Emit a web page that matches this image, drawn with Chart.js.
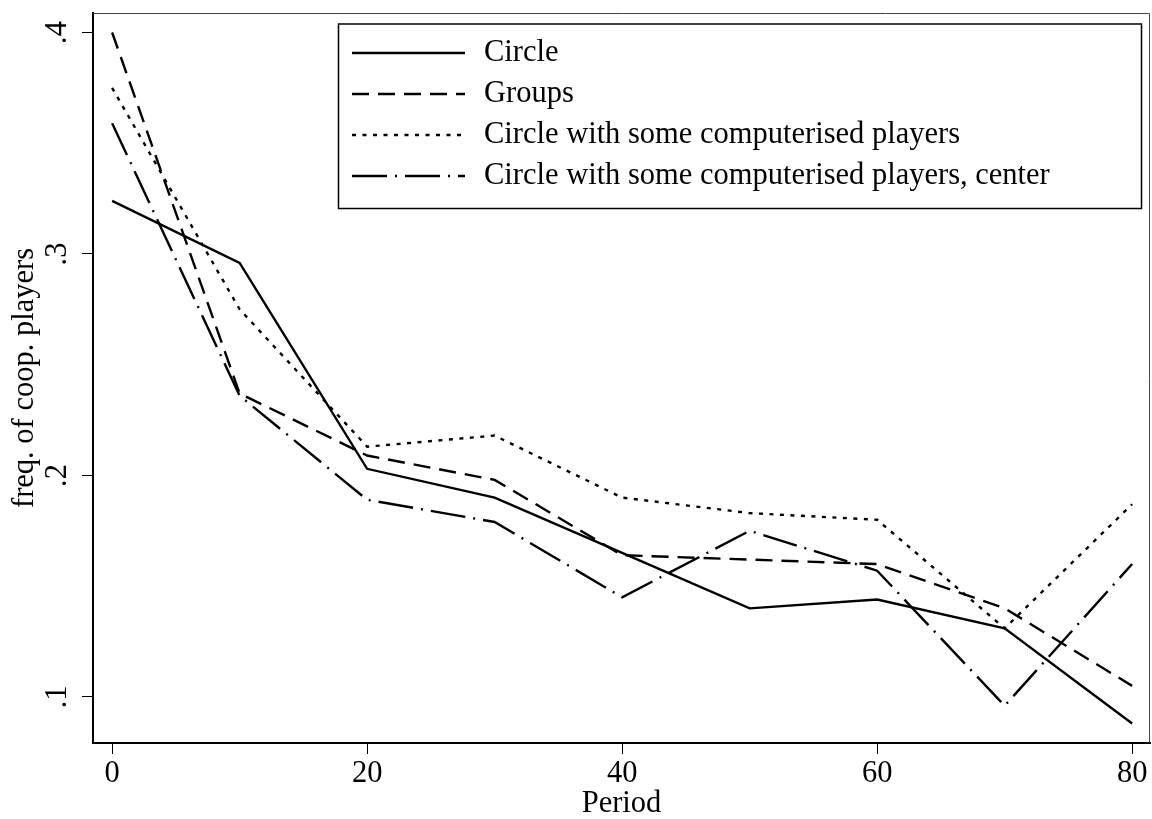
<!DOCTYPE html>
<html>
<head>
<meta charset="utf-8">
<script src="https://cdn.jsdelivr.net/npm/chart.js@4/dist/chart.umd.min.js"></script>
<style>
  html, body { margin: 0; padding: 0; background: #fff; }
  #wrap { width: 1152px; height: 819px; }
</style>
</head>
<body>
<div id="wrap"><canvas id="coopChart" width="1152" height="819"></canvas></div>
<script>
// ---------------------------------------------------------
// DATA
// ---------------------------------------------------------
const periods = [0, 10, 20, 30, 40, 50, 60, 70, 80];
const circle = [0.324, 0.296, 0.203, 0.190, 0.165, 0.140, 0.144, 0.131, 0.088];
const groups = [0.400, 0.237, 0.209, 0.198, 0.164, 0.162, 0.160, 0.140, 0.105];
const computerised = [0.375, 0.275, 0.213, 0.218, 0.190, 0.183, 0.180, 0.131, 0.187];
const computerisedCenter = [0.359, 0.236, 0.189, 0.179, 0.145, 0.175, 0.157, 0.096, 0.160];

const seriesNames = [
    'Circle',
    'Groups',
    'Circle with some computerised players',
    'Circle with some computerised players, center'
];
const xTicks = [0, 20, 40, 60, 80];
const yTicks = [0.1, 0.2, 0.3, 0.4];
const yTickLabels = ['.1', '.2', '.3', '.4'];

const SERIF = '"Liberation Serif", "Times New Roman", serif';
const FONT_SIZE = 30.5;

// line patterns, Stata style
const patterns = [[], [17, 9], [4, 6.5], [35, 8, 2, 8]];

function toPoints(vals) {
    return vals.map((v, i) => ({ x: periods[i], y: v }));
}

const allSeries = [circle, groups, computerised, computerisedCenter];
const datasets = allSeries.map((vals, i) => ({
    label: seriesNames[i],
    data: toPoints(vals),
    borderColor: '#000',
    borderWidth: 2.4,
    borderDash: patterns[i],
    pointRadius: 0,
    tension: 0,
    fill: false
}));

// ---------------------------------------------------------
// PLUGINS: frame, rotated y labels, boxed legend
// ---------------------------------------------------------
const framePlugin = {
    id: 'frame',
    beforeDatasetsDraw(chart) {
        const { ctx, chartArea } = chart;
        ctx.save();
        ctx.strokeStyle = '#444';
        ctx.lineWidth = 1;
        ctx.beginPath();
        ctx.moveTo(chartArea.left, chartArea.top + 0.5);
        ctx.lineTo(chartArea.right - 0.5, chartArea.top + 0.5);
        ctx.lineTo(chartArea.right - 0.5, chartArea.bottom);
        ctx.stroke();
        ctx.restore();
    }
};

const yLabelPlugin = {
    id: 'yLabels',
    afterDraw(chart) {
        const { ctx } = chart;
        const yScale = chart.scales.y;
        ctx.save();
        ctx.fillStyle = '#000';
        ctx.font = FONT_SIZE + 'px ' + SERIF;
        ctx.textAlign = 'center';
        ctx.textBaseline = 'alphabetic';
        yTicks.forEach((v, i) => {
            const py = yScale.getPixelForValue(v);
            ctx.save();
            ctx.translate(66, py);
            ctx.rotate(-Math.PI / 2);
            ctx.fillText(yTickLabels[i], 0, 0);
            ctx.restore();
        });
        ctx.restore();
    }
};

const legendPlugin = {
    id: 'boxLegend',
    afterDraw(chart) {
        const { ctx } = chart;
        const box = { left: 338.5, top: 24, right: 1141.5, bottom: 208.5 };
        ctx.save();
        ctx.strokeStyle = '#000';
        ctx.lineWidth = 1.5;
        ctx.strokeRect(box.left, box.top, box.right - box.left, box.bottom - box.top);

        ctx.font = FONT_SIZE + 'px ' + SERIF;
        ctx.fillStyle = '#000';
        ctx.textAlign = 'left';
        ctx.textBaseline = 'alphabetic';
        chart.data.datasets.forEach((ds, i) => {
            const rowY = 53 + i * 41;
            ctx.lineWidth = 2.4;
            ctx.setLineDash(ds.borderDash || []);
            ctx.beginPath();
            ctx.moveTo(352, rowY);
            ctx.lineTo(465, rowY);
            ctx.stroke();
            ctx.setLineDash([]);
            ctx.fillText(ds.label, 484, rowY + 8);
        });
        ctx.restore();
    }
};

// ---------------------------------------------------------
// CHART
// ---------------------------------------------------------
const ctx = document.getElementById('coopChart').getContext('2d');
const coopChart = new Chart(ctx, {
    type: 'line',
    data: { datasets: datasets },
    options: {
        responsive: false,
        animation: false,
        layout: { padding: { top: 13, right: 2, left: 0, bottom: 0 } },
        plugins: {
            legend: { display: false },
            tooltip: { enabled: false }
        },
        scales: {
            x: {
                type: 'linear',
                min: -1.5,
                max: 81.4,
                afterBuildTicks: (scale) => { scale.ticks = xTicks.map(v => ({ value: v })); },
                afterFit: (scale) => { scale.height = 76; },
                grid: { display: true, drawOnChartArea: false, drawTicks: true, tickLength: 11, color: '#000', lineWidth: 1 },
                border: { display: true, color: '#000', width: 2 },
                ticks: {
                    color: '#000',
                    padding: 2,
                    maxRotation: 0,
                    font: { family: SERIF, size: FONT_SIZE },
                    callback: (v) => String(v)
                },
                title: {
                    display: true,
                    text: 'Period',
                    color: '#000',
                    font: { family: SERIF, size: FONT_SIZE, lineHeight: 1 },
                    padding: { top: 0, bottom: 0 }
                }
            },
            y: {
                type: 'linear',
                min: 0.0792,
                max: 0.4088,
                afterBuildTicks: (scale) => { scale.ticks = yTicks.map(v => ({ value: v })); },
                afterFit: (scale) => { scale.width = 93; },
                grid: { display: true, drawOnChartArea: false, drawTicks: true, tickLength: 11, color: '#000', lineWidth: 1 },
                border: { display: true, color: '#000', width: 2 },
                ticks: { display: false },
                title: {
                    display: true,
                    text: 'freq. of coop. players',
                    color: '#000',
                    font: { family: SERIF, size: FONT_SIZE, lineHeight: 1 },
                    padding: { top: 10, bottom: 0 }
                }
            }
        }
    },
    plugins: [framePlugin, yLabelPlugin, legendPlugin]
});
</script>
</body>
</html>
